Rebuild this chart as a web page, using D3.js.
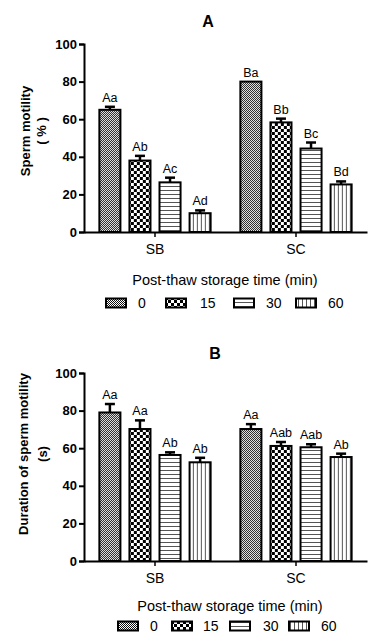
<!DOCTYPE html>
<html>
<head>
<meta charset="utf-8">
<script src="https://cdn.jsdelivr.net/npm/d3@7"></script>
<style>
  body { margin: 0; background: #fff; }
  svg { display: block; font-family: "Liberation Sans", Arial, sans-serif; }
</style>
</head>
<body>
<svg id="chart" width="374" height="637"></svg>
<script>
// groups and storage times
var groups = ["SB", "SC"];
var times = ["0", "15", "30", "60"];
var yTicks = [0, 20, 40, 60, 80, 100];

// panel A: sperm motility (%)
var motilityMean = [[65, 38, 26.4, 10], [80, 58.3, 44.4, 25.3]];
var motilityErr = [[1.6, 2.5, 2.5, 1.5], [0, 2, 3.2, 1.6]];
var motilityLetters = [["Aa", "Ab", "Ac", "Ad"], ["Ba", "Bb", "Bc", "Bd"]];

// panel B: duration of sperm motility (s)
var durationMean = [[79, 70.2, 56.4, 52.5], [70.2, 61.2, 60.5, 55.3]];
var durationErr = [[4.5, 4.6, 1.4, 2.4], [2.6, 2.1, 1.6, 1.8]];
var durationLetters = [["Aa", "Aa", "Ab", "Ab"], ["Aa", "Aab", "Aab", "Ab"]];

var svg = d3.select("#chart");
var defs = svg.append("defs");

// fill patterns, one per storage time
function makePatterns() {
    var p0 = defs.append("pattern").attr("id", "pat0")
        .attr("patternUnits", "userSpaceOnUse").attr("width", 2).attr("height", 2);
    p0.append("rect").attr("width", 2).attr("height", 2).attr("fill", "#fff");
    p0.append("rect").attr("width", 1).attr("height", 1).attr("fill", "#111");
    p0.append("rect").attr("x", 1).attr("y", 1).attr("width", 1).attr("height", 1).attr("fill", "#111");

    var p1 = defs.append("pattern").attr("id", "pat1")
        .attr("patternUnits", "userSpaceOnUse").attr("width", 6).attr("height", 6);
    p1.append("rect").attr("width", 6).attr("height", 6).attr("fill", "#fff");
    p1.append("rect").attr("width", 3).attr("height", 3).attr("fill", "#000");
    p1.append("rect").attr("x", 3).attr("y", 3).attr("width", 3).attr("height", 3).attr("fill", "#000");

    var p2 = defs.append("pattern").attr("id", "pat2")
        .attr("patternUnits", "userSpaceOnUse").attr("width", 4).attr("height", 4);
    p2.append("rect").attr("width", 4).attr("height", 4).attr("fill", "#fff");
    p2.append("rect").attr("y", 2).attr("width", 4).attr("height", 1).attr("fill", "#555");

    var p3 = defs.append("pattern").attr("id", "pat3")
        .attr("patternUnits", "userSpaceOnUse").attr("width", 4).attr("height", 4);
    p3.append("rect").attr("width", 4).attr("height", 4).attr("fill", "#fff");
    p3.append("rect").attr("x", 2).attr("width", 1).attr("height", 4).attr("fill", "#555");
}
makePatterns();

function drawPanel(cfg) {
    var g = svg.append("g");

    var x0 = d3.scaleBand().domain(groups).range([84, 367])
        .paddingInner(0.147).paddingOuter(0.077);
    var x1 = d3.scaleBand().domain(times).range([0, x0.bandwidth()])
        .paddingInner(0.3).paddingOuter(0.15);
    var y = d3.scaleLinear().domain([0, 100]).range([cfg.y0, cfg.y100]);

    g.append("text")
        .attr("x", cfg.titleX).attr("y", cfg.titleY)
        .attr("text-anchor", "middle")
        .attr("font-size", "16px").attr("font-weight", "bold")
        .text(cfg.title);

    // bars
    groups.forEach(function (grp, gi) {
        var gg = g.append("g").attr("transform", "translate(" + x0(grp) + ",0)");
        times.forEach(function (t, ti) {
            var v = cfg.mean[gi][ti];
            var e = cfg.err[gi][ti];
            var bx = x1(t), bw = x1.bandwidth();
            var cx = bx + bw / 2;
            if (e > 0) {
                gg.append("line")
                    .attr("x1", cx).attr("x2", cx)
                    .attr("y1", y(v)).attr("y2", y(v + e))
                    .attr("stroke", "#000").attr("stroke-width", 2.5);
                gg.append("line")
                    .attr("x1", cx - 5).attr("x2", cx + 5)
                    .attr("y1", y(v + e)).attr("y2", y(v + e))
                    .attr("stroke", "#000").attr("stroke-width", 2.5);
            }
            gg.append("rect")
                .attr("x", bx).attr("y", y(v))
                .attr("width", bw).attr("height", y(0) - y(v))
                .attr("fill", "url(#pat" + ti + ")")
                .attr("stroke", "#000").attr("stroke-width", 2);
            gg.append("text")
                .attr("x", cx).attr("y", y(v + e) - 5)
                .attr("text-anchor", "middle")
                .attr("font-size", "12.5px")
                .text(cfg.letters[gi][ti]);
        });
    });

    // y axis
    var yAxis = g.append("g")
        .attr("transform", "translate(84,0)")
        .call(d3.axisLeft(y).tickValues(yTicks).tickSize(5).tickPadding(2));
    yAxis.select(".domain").attr("stroke-width", 2);
    yAxis.selectAll(".tick line").attr("stroke-width", 2);
    yAxis.selectAll(".tick text")
        .attr("font-size", "13px").attr("font-weight", "bold")
        .attr("font-family", "Liberation Sans, Arial, sans-serif").attr("fill", "#000");

    // x axis
    var xAxis = g.append("g")
        .attr("transform", "translate(0," + cfg.y0 + ")")
        .call(d3.axisBottom(x0).tickSizeInner(5).tickSizeOuter(0).tickPadding(7));
    xAxis.select(".domain").attr("stroke-width", 2);
    xAxis.selectAll(".tick line").attr("stroke-width", 1.5);
    xAxis.selectAll(".tick text")
        .attr("font-size", "14px")
        .attr("font-family", "Liberation Sans, Arial, sans-serif").attr("fill", "#000");

    // y titles
    var ymid = cfg.yTitleMid;
    g.append("text")
        .attr("transform", "translate(" + cfg.yTitleX1 + "," + ymid + ") rotate(-90)")
        .attr("text-anchor", "middle").attr("dominant-baseline", "central")
        .attr("font-size", "13px").attr("font-weight", "bold")
        .text(cfg.yTitle1);
    g.append("text")
        .attr("transform", "translate(" + cfg.yTitleX2 + "," + ymid + ") rotate(-90)")
        .attr("text-anchor", "middle").attr("dominant-baseline", "central")
        .attr("font-size", "13px").attr("font-weight", "bold")
        .text(cfg.yTitle2);

    // x title
    g.append("text")
        .attr("x", cfg.xTitleX).attr("y", cfg.xTitleY)
        .attr("text-anchor", "middle").attr("dominant-baseline", "central")
        .attr("font-size", "14.5px")
        .text("Post-thaw storage time (min)");

    // legend
    times.forEach(function (t, ti) {
        var lx = cfg.legendX[ti];
        g.append("rect")
            .attr("x", lx).attr("y", cfg.legendY - 4.5)
            .attr("width", 20).attr("height", 9)
            .attr("fill", "url(#pat" + ti + ")")
            .attr("stroke", "#000").attr("stroke-width", 2);
        g.append("text")
            .attr("x", cfg.legendTextX[ti]).attr("y", cfg.legendY)
            .attr("dominant-baseline", "central")
            .attr("font-size", "14px")
            .text(t);
    });
}

drawPanel({
    title: "A", titleX: 208, titleY: 27,
    y0: 232, y100: 44,
    mean: motilityMean, err: motilityErr, letters: motilityLetters,
    yTitle1: "Sperm motility", yTitle2: "( % )",
    yTitleX1: 25, yTitleX2: 41, yTitleMid: 131,
    xTitleX: 225, xTitleY: 280,
    legendY: 303,
    legendX: [106, 166, 234, 296],
    legendTextX: [138, 200, 266, 328]
});

drawPanel({
    title: "B", titleX: 215, titleY: 359,
    y0: 561, y100: 373,
    mean: durationMean, err: durationErr, letters: durationLetters,
    yTitle1: "Duration of sperm motility", yTitle2: "(s)",
    yTitleX1: 23, yTitleX2: 42, yTitleMid: 454,
    xTitleX: 230, xTitleY: 606,
    legendY: 626,
    legendX: [118, 172, 230, 289],
    legendTextX: [150, 203, 263, 321]
});
</script>
</body>
</html>
